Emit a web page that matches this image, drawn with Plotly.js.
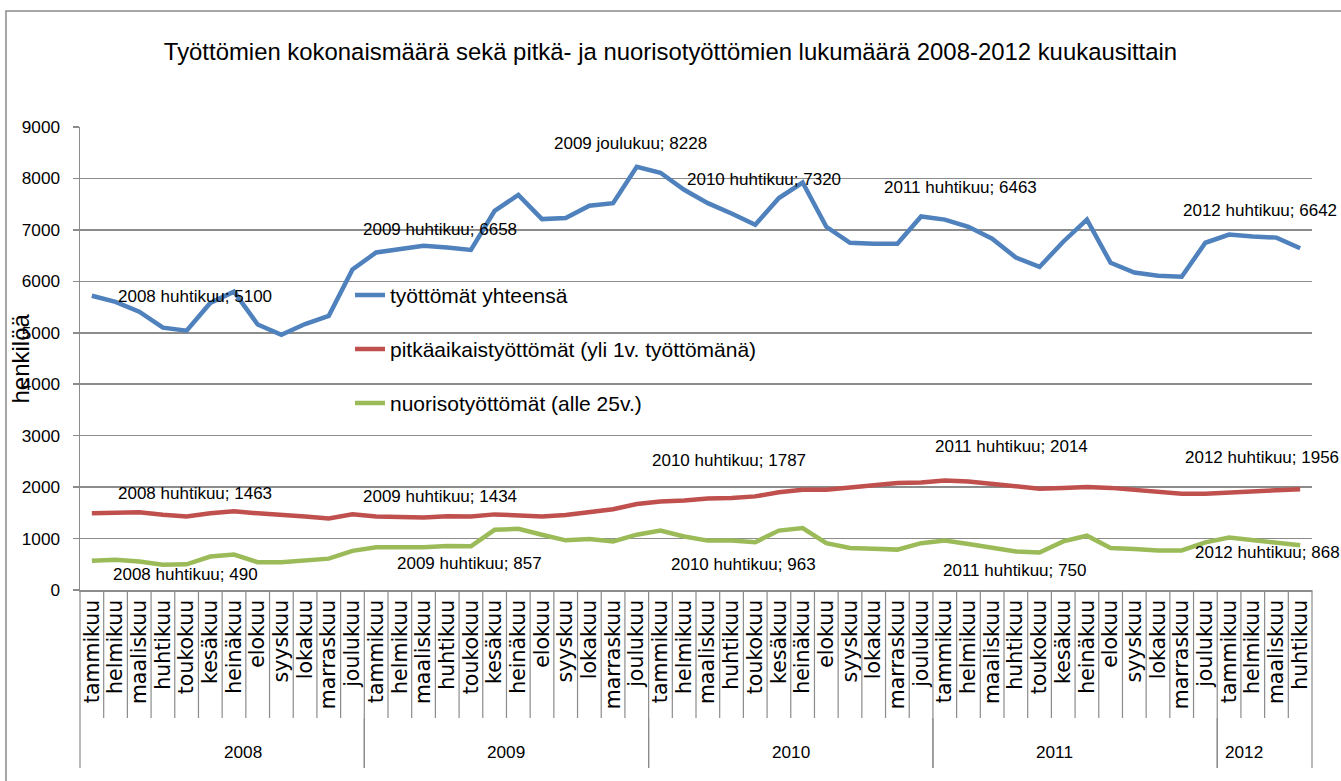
<!DOCTYPE html>
<html>
<head>
<meta charset="utf-8">
<script src="https://cdn.plot.ly/plotly-3.0.1.min.js"></script>
<style>
html,body{margin:0;padding:0;background:#fff;}
#chart{width:1341px;height:781px;}
</style>
</head>
<body>
<div id="chart"></div>
<script>
// ---- data ----
const monthNames = ['tammikuu','helmikuu','maaliskuu','huhtikuu','toukokuu','kesäkuu','heinäkuu','elokuu','syyskuu','lokakuu','marraskuu','joulukuu'];
const years = ['2008','2009','2010','2011','2012'];
const monthsInYear = [12, 12, 12, 12, 4];

const seriesNames = ['työttömät yhteensä', 'pitkäaikaistyöttömät (yli 1v. työttömänä)', 'nuorisotyöttömät (alle 25v.)'];

const total = [5720,5600,5410,5100,5040,5580,5800,5160,4960,5170,5330,6230,
               6560,6630,6690,6658,6610,7370,7680,7210,7230,7470,7520,8228,
               8110,7780,7520,7320,7100,7620,7920,7060,6750,6730,6730,7260,
               7200,7060,6830,6463,6280,6770,7200,6360,6170,6110,6090,6750,
               6910,6870,6850,6642];
const longTerm = [1490,1490,1510,1463,1430,1490,1530,1490,1470,1430,1390,1470,
                  1430,1430,1410,1434,1430,1470,1460,1430,1460,1510,1570,1670,
                  1720,1740,1780,1787,1820,1900,1950,1950,2000,2050,2080,2090,
                  2130,2110,2060,2014,1970,1985,2000,1985,1950,1905,1870,1870,
                  1900,1920,1940,1956];
const youth = [570,590,555,490,500,650,690,540,540,570,610,760,
               830,830,830,857,850,1170,1190,1075,965,990,945,1075,
               1155,1040,960,963,930,1155,1205,910,815,800,785,910,
               960,895,830,750,730,945,1055,815,795,770,770,925,
               1020,965,910,868];

const totalLabelIdx = [3, 15, 23, 27, 39, 51];
const longTermLabelIdx = [3, 15, 27, 39, 51];
const youthLabelIdx = [3, 15, 27, 39, 51];

const yTicks = [0,1000,2000,3000,4000,5000,6000,7000,8000,9000];

// ---- fonts: use a narrow face if present, else Arial-metric face sized to the same widths ----
function hasFont(name) {
  const c = document.createElement('canvas').getContext('2d');
  const t = 'työttömät 2008 huhtikuu WMmil';
  c.font = '40px monospace';
  const a = c.measureText(t).width;
  c.font = '40px "' + name + '", monospace';
  const b = c.measureText(t).width;
  return Math.abs(a - b) > 0.5;
}
let narrow, sz;
if (hasFont('Liberation Sans Narrow')) {
  narrow = '"Liberation Sans Narrow", sans-serif';
  sz = {title: 26, label: 20.7, legend: 25, ytick: 21, year: 21};
} else {
  narrow = '"Liberation Sans", Arial, sans-serif';
  sz = {title: 23.9, label: 17, legend: 21, ytick: 17.2, year: 17.2};
}

// ---- styles ----
const colors = ['#4F81BD', '#C0504D', '#9BBB59'];
const gridCol = '#8c8c8c';
// label pixel offsets [dx, dy(up)]
const totalOff = [[32,31],[-7,18],[-6,23],[32,34],[-55,70],[-40,38]];
const longOff = [[32,21],[-7,20],[-3,38],[-4,40],[-38,32]];
const youthOff = [[23,-10],[22,-18],[12,-24],[-1,-19],[-33,-7]];

// ---- build categories ----
const monthLabels = [], yearOf = [];
years.forEach((yr, j) => {
  for (let m = 0; m < monthsInYear[j]; m++) { monthLabels.push(monthNames[m]); yearOf.push(yr); }
});
const N = monthLabels.length;
const xIdx = monthLabels.map((_, i) => i);

const series = [total, longTerm, youth];
const traces = series.map((vals, s) => ({
  type: 'scatter', mode: 'lines', x: xIdx, y: vals, name: seriesNames[s],
  legendgroup: 'g' + s,
  line: {color: colors[s], width: 4.5}, hoverinfo: 'skip'
}));

const annotations = [];
function addLabels(vals, idxs, offs) {
  idxs.forEach((i, j) => {
    annotations.push({
      x: i, y: vals[i], xref: 'x', yref: 'y', showarrow: false,
      text: yearOf[i] + ' ' + monthLabels[i] + '; ' + vals[i],
      xshift: offs[j][0], yshift: offs[j][1],
      font: {family: narrow, size: sz.label, color: '#000'}
    });
  });
}
addLabels(total, totalLabelIdx, totalOff);
addLabels(longTerm, longTermLabelIdx, longOff);
addLabels(youth, youthLabelIdx, youthOff);

// plot geometry helpers (pixels -> paper)
const plotH = 781 - 127 - 191;
const plotW = 1341 - 80 - 29;
const py = px => -px / plotH; // px below x axis

const shapes = [];
for (let b = 0; b <= N; b++) {
  shapes.push({type: 'line', xref: 'paper', yref: 'paper', x0: b / N, x1: b / N, y0: 0, y1: py(128),
    line: {color: gridCol, width: 1.2}});
}
let start = 0;
years.forEach((yr, j) => {
  const end = start + monthsInYear[j];
  [start, end].forEach(b => shapes.push({type: 'line', xref: 'paper', yref: 'paper', x0: b / N, x1: b / N,
    y0: py(128), y1: py(178), line: {color: gridCol, width: 1.2}}));
  annotations.push({x: (start + end) / 2 / N, y: py(162), xref: 'paper', yref: 'paper', showarrow: false,
    text: yr, font: {family: narrow, size: sz.year, color: '#000'}, yanchor: 'middle'});
  start = end;
});
shapes.push({type: 'rect', xref: 'paper', yref: 'paper', x0: (6 - 80) / plotW, x1: (1345 - 80) / plotW,
  y0: -(800 - 590) / plotH, y1: (590 - 11) / plotH, line: {color: '#8a8a8a', width: 1.5}});

annotations.push({x: (20 - 80) / plotW, y: 0.5, xref: 'paper', yref: 'paper', showarrow: false,
  xanchor: 'center', yanchor: 'middle',
  text: 'henkilöä', textangle: -90, font: {family: 'Liberation Sans, Arial, sans-serif', size: 24, color: '#000'}});

const legItemH = sz.legend * 1.3 + 3;
const legTop = 295 - legItemH / 2 - 5;

const layout = {
  width: 1341, height: 781,
  margin: {l: 80, r: 29, t: 127, b: 191},
  paper_bgcolor: '#fff', plot_bgcolor: '#fff',
  title: {text: 'Työttömien kokonaismäärä sekä pitkä- ja nuorisotyöttömien lukumäärä 2008-2012 kuukausittain',
    font: {family: narrow, size: sz.title, color: '#000'}, x: 0.5, xref: 'container', y: 1 - 52 / 781, yref: 'container', yanchor: 'middle'},
  showlegend: true,
  legend: {x: (350 - 80) / plotW, y: (590 - legTop) / plotH, xanchor: 'left', yanchor: 'top',
    bgcolor: 'rgba(0,0,0,0)', font: {family: narrow, size: sz.legend, color: '#000'},
    traceorder: 'grouped', tracegroupgap: Math.max(0, 54 - legItemH)},
  xaxis: {
    range: [-0.5, N - 0.5], tickvals: xIdx, ticktext: monthLabels, tickangle: -90,
    showgrid: false, zeroline: false, showline: true, linecolor: gridCol, linewidth: 1.5,
    ticks: '', tickfont: {family: 'DejaVu Sans, sans-serif', size: 20.5, color: '#000'}, fixedrange: true
  },
  yaxis: {
    range: [0, 9000], tickvals: yTicks, ticktext: yTicks.map(String),
    showgrid: true, gridcolor: gridCol, gridwidth: 1.5, zeroline: false,
    showline: true, linecolor: gridCol, linewidth: 1.5,
    ticks: 'outside', ticklen: 6, tickcolor: gridCol, tickwidth: 1.5, ticklabelstandoff: 9,
    tickfont: {family: narrow, size: sz.ytick, color: '#000'}, fixedrange: true
  },
  shapes: shapes,
  annotations: annotations
};

Plotly.newPlot('chart', traces, layout, {displayModeBar: false, staticPlot: true});
</script>
</body>
</html>
